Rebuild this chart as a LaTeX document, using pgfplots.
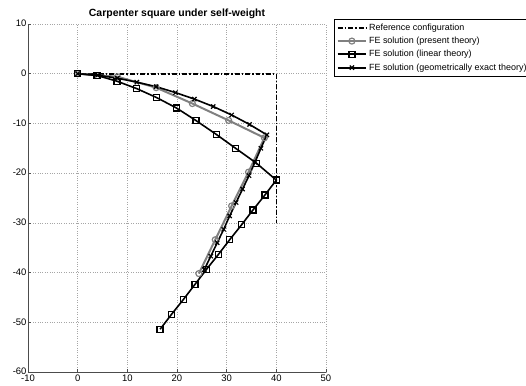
\documentclass[border=0pt]{standalone}
\usepackage{fontspec}
\setmainfont{Liberation Sans}
\usepackage{pgfplots}
\pgfplotsset{compat=1.18}
\usetikzlibrary{calc}
\definecolor{grayline}{RGB}{128,128,128}
\begin{document}
\begin{tikzpicture}
\begin{axis}[
  scale only axis, width=298bp, height=348bp,
  xmin=-10, xmax=50, ymin=-60, ymax=10,
  xtick={-10,0,...,50}, ytick={-60,-50,...,10},
  axis x line*=bottom, axis y line*=left,
  axis line style={line width=0.6pt, black!70, -},
  tick style={black!70, line width=0.5pt},
  major tick length=3bp,
  grid=major, major grid style={black!35, dotted, line width=0.5pt},
  /pgf/number format/assume math mode=true,
  ticklabel style={font=\fontsize{9.5}{10}\selectfont},
  xticklabel style={yshift=0.8bp},
  yticklabel style={xshift=2bp, yshift=0.5bp},
  title={\textbf{Carpenter square under self-weight}},
  title style={font=\fontsize{10.5}{12}\selectfont, yshift=-4bp},
  legend style={at={(1.027,1.014)}, anchor=north west, font=\fontsize{9}{10}\selectfont,
    draw=black, inner sep=2.5bp, row sep=1.3bp, cells={anchor=west}},
  legend image code/.code={\draw[mark repeat=2,mark phase=2] plot coordinates {(0cm,0cm) (0.5cm,0cm) (1cm,0cm)};},
  legend image post style={line width=2pt},
  legend cell align=left,
  clip=false,
]
\addplot[black, line width=1.6pt, dash pattern=on 5pt off 2pt on 1.5pt off 2pt] coordinates {(0,0) (40,0) (40,-30)};
\addlegendentry{Reference configuration}
\addplot[grayline, line width=2pt, mark=o, mark size=3bp, mark options={solid, line width=1.2pt}] coordinates {
(0,0) (8,-0.6) (15.8,-2.8) (23.1,-6.0) (30.4,-9.4) (37.6,-12.9)
(34.4,-19.8) (31.0,-26.6) (27.7,-33.4) (24.4,-40.2)};
\addlegendentry{FE solution (present theory)}
\addplot[black, line width=1.6pt, mark=square, mark size=3bp, mark options={solid, line width=1.3pt}] coordinates {
(0,0) (3.9,-0.35) (7.9,-1.5) (11.9,-3.0) (15.9,-4.8) (19.9,-6.9) (23.8,-9.4) (27.9,-12.2) (31.8,-15.0) (36.0,-18.0) (40,-21.4)
(37.7,-24.4) (35.3,-27.4) (33.0,-30.4) (30.6,-33.4) (28.3,-36.4) (25.9,-39.4) (23.6,-42.4) (21.3,-45.4) (18.9,-48.4) (16.6,-51.4)};
\addlegendentry{FE solution (linear theory)}
\addplot[black, line width=1.6pt, mark=x, mark size=3bp, mark options={solid, line width=1.2pt}] coordinates {
(0,0) (4,-0.3) (8,-0.9) (11.9,-1.7) (15.8,-2.6) (19.7,-3.8) (23.5,-5.1) (27.3,-6.6) (31.0,-8.3) (34.6,-10.2) (38.1,-12.3)
(36.9,-15.0) (35.7,-17.8) (34.5,-20.5) (33.2,-23.2) (31.9,-25.9) (30.6,-28.6) (29.4,-31.3) (28.1,-34.0) (26.8,-36.7) (25.5,-39.4)};
\addlegendentry{FE solution (geometrically exact theory)}
\coordinate (ll) at (rel axis cs:0,0);
\end{axis}
\pgfresetboundingbox
\path ($(ll)+(-28bp,-14bp)$) rectangle ($(ll)+(498bp,372bp)$);
\end{tikzpicture}
\end{document}
